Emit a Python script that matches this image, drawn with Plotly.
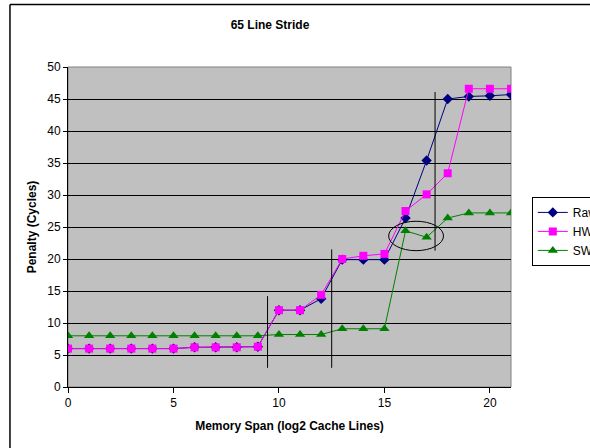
import plotly.graph_objects as go

# Memory span in log2 cache lines
span = list(range(22))

# Penalty in cycles for each configuration
raw = [6.0, 6.0, 6.0, 6.0, 6.0, 6.0, 6.2, 6.2, 6.2, 6.3, 12.0, 12.0, 13.8, 19.9, 19.9, 19.9,
       26.4, 35.4, 45.0, 45.4, 45.5, 45.7]
hw = [6.0, 6.0, 6.0, 6.0, 6.0, 6.0, 6.2, 6.2, 6.2, 6.3, 12.0, 12.0, 14.4, 20.0, 20.5, 20.8,
      27.5, 30.1, 33.4, 46.6, 46.6, 46.6]
sw = [8.0, 8.0, 8.0, 8.0, 8.0, 8.0, 8.0, 8.0, 8.0, 8.0, 8.2, 8.2, 8.2, 9.1, 9.1, 9.1,
      24.4, 23.4, 26.4, 27.2, 27.2, 27.2]

series_names = ["Raw", "HW", "SW"]

# Cache-boundary markers: (x, y_low, y_high)
boundaries = [(9.46, 3.0, 14.2), (12.5, 3.0, 21.5), (17.4, 21.3, 46.1)]
# Highlight ellipse around the SW dip: (x0, x1, y0, y1)
highlight = (15.2, 17.8, 21.3, 25.9)

FONT = "Liberation Sans, Arial, sans-serif"

fig = go.Figure()
fig.add_trace(go.Scatter(x=span, y=raw, name=series_names[0], mode="lines+markers",
                         line=dict(color="#000080", width=1),
                         marker=dict(symbol="diamond", size=8, color="#000080")))
fig.add_trace(go.Scatter(x=span, y=hw, name=series_names[1], mode="lines+markers",
                         line=dict(color="#FF00FF", width=1),
                         marker=dict(symbol="square", size=8, color="#FF00FF")))
fig.add_trace(go.Scatter(x=span, y=sw, name=series_names[2], mode="lines+markers",
                         line=dict(color="#008000", width=1),
                         marker=dict(symbol="triangle-up", size=9, color="#008000")))

shapes = []
for bx, y0, y1 in boundaries:
    shapes.append(dict(type="line", xref="x", yref="y", x0=bx, x1=bx, y0=y0, y1=y1,
                       line=dict(color="black", width=1)))
ex0, ex1, ey0, ey1 = highlight
shapes.append(dict(type="circle", xref="x", yref="y", x0=ex0, x1=ex1, y0=ey0, y1=ey1,
                   line=dict(color="black", width=1)))
# Chart frame (left and top edges)
shapes.append(dict(type="line", xref="paper", yref="paper", x0=-0.131, x1=-0.131,
                   y0=-0.5, y1=1.195, line=dict(color="black", width=1.5)))
shapes.append(dict(type="line", xref="paper", yref="paper", x0=-0.131, x1=1.5,
                   y0=1.195, y1=1.195, line=dict(color="black", width=1.5)))
# Gray plot-area border
shapes.append(dict(type="rect", xref="paper", yref="paper", x0=0, x1=1, y0=0, y1=1,
                   line=dict(color="#808080", width=1), layer="below"))

fig.update_layout(
    width=590, height=448,
    margin=dict(l=68, r=79, t=67, b=61, autoexpand=False),
    paper_bgcolor="white",
    plot_bgcolor="#C0C0C0",
    font=dict(family=FONT, size=12, color="black"),
    title=dict(text="<b>65 Line Stride</b>", x=270 / 590, xanchor="center",
               y=1 - 25 / 448, yanchor="middle", font=dict(size=12, family=FONT)),
    showlegend=True,
    legend=dict(x=1.047, xanchor="left", y=0.594, yanchor="top",
                bordercolor="black", borderwidth=1, bgcolor="white",
                font=dict(size=12, family=FONT), itemwidth=30,
                tracegroupgap=0),
    shapes=shapes,
    xaxis=dict(range=[0, 21], tickvals=[0, 5, 10, 15, 20], showgrid=False, zeroline=False,
               showline=True, linecolor="black", linewidth=1, ticks="outside",
               ticklen=5, tickcolor="black", mirror=False,
               tickfont=dict(size=12, family=FONT),
               title=dict(text="<b>Memory Span (log2 Cache Lines)</b>", standoff=12,
                          font=dict(size=12, family=FONT))),
    yaxis=dict(range=[0, 50], tickvals=list(range(0, 55, 5)), showgrid=True,
               gridcolor="black", gridwidth=1, zeroline=False,
               showline=True, linecolor="black", linewidth=1, ticks="outside",
               ticklen=4, tickcolor="black",
               tickfont=dict(size=12, family=FONT),
               title=dict(text="<b>Penalty (Cycles)</b>", standoff=8,
                          font=dict(size=12, family=FONT))),
)

fig.write_html("out.html")
